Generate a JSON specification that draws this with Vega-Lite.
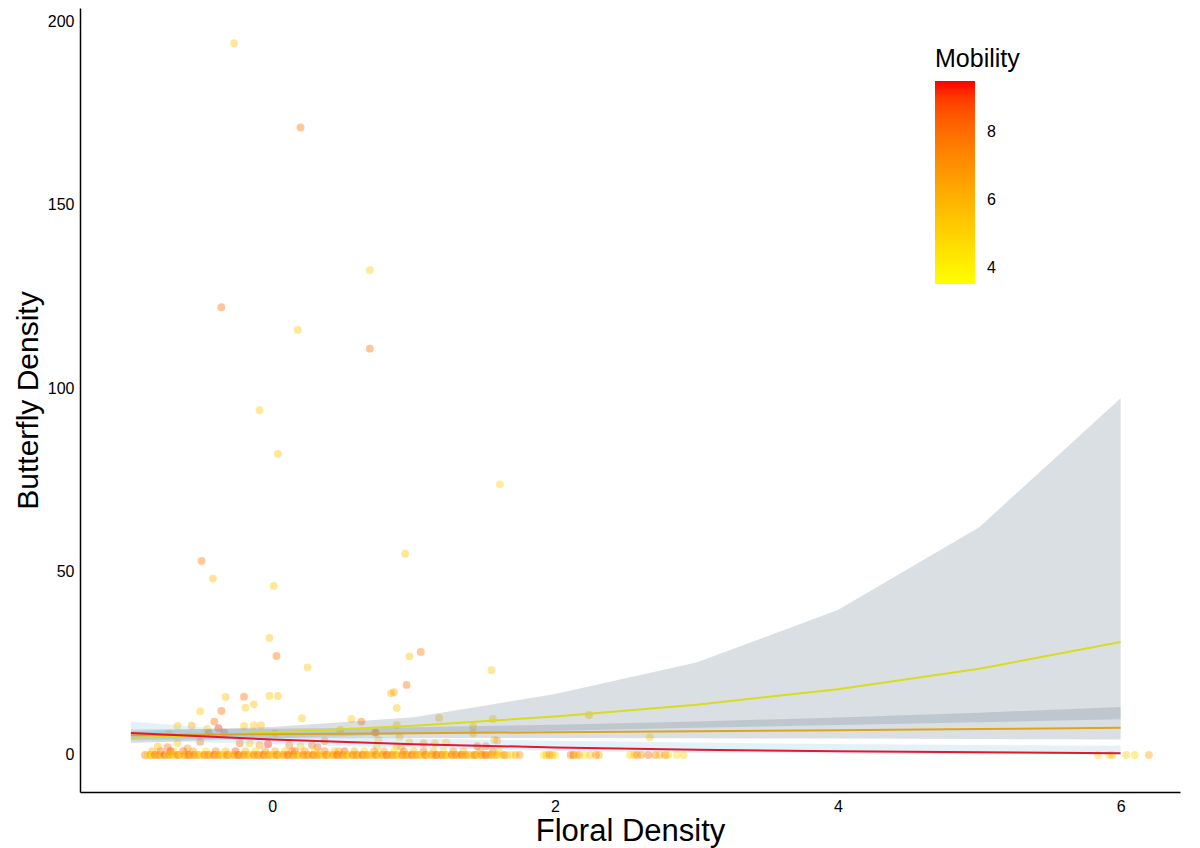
{
"$schema": "https://vega.github.io/schema/vega-lite/v6.json",
"width": 1100,
"height": 784,
"autosize": {"type": "none"},
"padding": {"left": 80, "top": 8, "right": 20, "bottom": 56},
"background": "white",
"config": {
  "view": {"stroke": null},
  "font": "Liberation Sans",
  "axis": {"grid": false, "ticks": false, "domainColor": "black", "domainWidth": 1.5, "labelColor": "black", "labelFontSize": 16, "labelPadding": 6, "titleFontWeight": "normal", "titleColor": "black"}
},
"datasets": {
"points": [
{"floral":-0.27,"butterfly":194.1,"mobility":5.3},{"floral":0.20,"butterfly":171.1,"mobility":7.8},{"floral":0.69,"butterfly":132.2,"mobility":5.2},{"floral":-0.36,"butterfly":122.1,"mobility":7.9},{"floral":0.18,"butterfly":115.9,"mobility":5.4},{"floral":0.69,"butterfly":110.8,"mobility":7.8},{"floral":-0.09,"butterfly":94.0,"mobility":5.3},{"floral":0.04,"butterfly":82.1,"mobility":5.5},{"floral":1.61,"butterfly":73.8,"mobility":5.2},{"floral":0.94,"butterfly":54.9,"mobility":5.4},{"floral":-0.50,"butterfly":52.9,"mobility":7.7},{"floral":-0.42,"butterfly":48.1,"mobility":5.6},{"floral":0.01,"butterfly":46.1,"mobility":5.3},{"floral":-0.02,"butterfly":31.9,"mobility":5.5},{"floral":0.03,"butterfly":27.0,"mobility":7.8},{"floral":0.25,"butterfly":23.9,"mobility":5.4},{"floral":0.97,"butterfly":26.9,"mobility":5.6},{"floral":1.05,"butterfly":28.1,"mobility":7.7},{"floral":1.55,"butterfly":23.1,"mobility":5.3},{"floral":0.95,"butterfly":19.1,"mobility":7.9},{"floral":0.84,"butterfly":16.8,"mobility":5.8},{"floral":0.86,"butterfly":17.1,"mobility":6.5},{"floral":0.88,"butterfly":12.8,"mobility":5.5},{"floral":-0.33,"butterfly":15.8,"mobility":5.6},{"floral":-0.20,"butterfly":15.9,"mobility":7.8},{"floral":-0.02,"butterfly":16.1,"mobility":5.5},{"floral":0.04,"butterfly":16.1,"mobility":5.6},{"floral":-0.19,"butterfly":12.9,"mobility":5.4},{"floral":-0.13,"butterfly":13.8,"mobility":5.6},{"floral":-0.51,"butterfly":11.9,"mobility":5.3},{"floral":-0.36,"butterfly":12.0,"mobility":7.9},{"floral":-0.41,"butterfly":9.1,"mobility":8.0},{"floral":0.21,"butterfly":10.0,"mobility":5.5},{"floral":0.56,"butterfly":9.8,"mobility":5.4},{"floral":0.63,"butterfly":9.1,"mobility":7.8},{"floral":1.18,"butterfly":10.1,"mobility":5.6},{"floral":1.56,"butterfly":9.8,"mobility":5.3},{"floral":2.24,"butterfly":10.9,"mobility":5.7},{"floral":2.67,"butterfly":4.8,"mobility":5.1},{"floral":-0.57,"butterfly":8.0,"mobility":6.6},{"floral":-0.20,"butterfly":7.9,"mobility":5.5},{"floral":-0.13,"butterfly":8.1,"mobility":5.4},{"floral":-0.08,"butterfly":8.1,"mobility":5.7},{"floral":-0.38,"butterfly":7.3,"mobility":9.3},{"floral":-0.67,"butterfly":7.9,"mobility":5.6},{"floral":-0.46,"butterfly":7.1,"mobility":5.3},{"floral":-0.45,"butterfly":5.9,"mobility":9.0},{"floral":-0.34,"butterfly":6.1,"mobility":9.2},{"floral":-0.73,"butterfly":5.9,"mobility":5.5},{"floral":0.02,"butterfly":5.9,"mobility":5.6},{"floral":0.48,"butterfly":6.8,"mobility":5.4},{"floral":0.73,"butterfly":6.1,"mobility":9.3},{"floral":0.88,"butterfly":8.2,"mobility":5.5},{"floral":0.90,"butterfly":5.0,"mobility":5.6},{"floral":0.75,"butterfly":4.1,"mobility":5.8},{"floral":0.37,"butterfly":3.8,"mobility":7.6},{"floral":1.42,"butterfly":7.7,"mobility":5.4},{"floral":1.42,"butterfly":5.9,"mobility":5.6},{"floral":1.57,"butterfly":4.1,"mobility":5.6},{"floral":1.59,"butterfly":3.9,"mobility":6.9},{"floral":0.97,"butterfly":3.4,"mobility":6.0},{"floral":1.07,"butterfly":3.2,"mobility":7.2},{"floral":1.23,"butterfly":3.4,"mobility":5.5},{"floral":1.15,"butterfly":3.2,"mobility":5.9},{"floral":-0.23,"butterfly":3.2,"mobility":8.2},{"floral":-0.16,"butterfly":3.2,"mobility":5.6},{"floral":-0.09,"butterfly":2.7,"mobility":6.9},{"floral":-0.03,"butterfly":3.0,"mobility":9.4},{"floral":0.12,"butterfly":2.7,"mobility":7.6},{"floral":0.20,"butterfly":2.3,"mobility":5.4},{"floral":-0.81,"butterfly":2.3,"mobility":6.0},{"floral":-0.74,"butterfly":2.1,"mobility":7.9},{"floral":-0.67,"butterfly":3.2,"mobility":5.5},{"floral":-0.60,"butterfly":1.8,"mobility":7.2},{"floral":-0.51,"butterfly":3.6,"mobility":8.0},{"floral":0.28,"butterfly":2.7,"mobility":7.8},{"floral":0.32,"butterfly":2.1,"mobility":8.3},{"floral":0.74,"butterfly":2.2,"mobility":5.6},{"floral":0.88,"butterfly":2.4,"mobility":5.4},{"floral":0.91,"butterfly":2.2,"mobility":6.1},{"floral":1.45,"butterfly":2.4,"mobility":8.5},{"floral":1.51,"butterfly":2.4,"mobility":8.2},
{"floral":-0.85,"butterfly":1,"mobility":6.2},{"floral":-0.79,"butterfly":1,"mobility":7.9},{"floral":-0.70,"butterfly":1,"mobility":5.1},{"floral":-0.63,"butterfly":1,"mobility":8.3},{"floral":-0.56,"butterfly":1,"mobility":6.7},{"floral":-0.47,"butterfly":1,"mobility":4.6},{"floral":-0.40,"butterfly":1,"mobility":7.4},{"floral":-0.33,"butterfly":1,"mobility":5.8},{"floral":-0.26,"butterfly":1,"mobility":8.7},{"floral":-0.19,"butterfly":1,"mobility":6.0},{"floral":-0.12,"butterfly":1,"mobility":4.9},{"floral":-0.05,"butterfly":1,"mobility":7.2},{"floral":0.02,"butterfly":1,"mobility":6.4},{"floral":0.09,"butterfly":1,"mobility":5.3},{"floral":0.16,"butterfly":1,"mobility":8.1},{"floral":0.23,"butterfly":1,"mobility":6.9},{"floral":0.30,"butterfly":1,"mobility":4.7},{"floral":0.37,"butterfly":1,"mobility":7.6},{"floral":0.44,"butterfly":1,"mobility":5.5},{"floral":0.51,"butterfly":1,"mobility":8.5},{"floral":0.58,"butterfly":1,"mobility":6.3},{"floral":0.65,"butterfly":1,"mobility":5.0},{"floral":0.72,"butterfly":1,"mobility":7.0},{"floral":0.79,"butterfly":1,"mobility":6.6},{"floral":0.86,"butterfly":1,"mobility":4.5},{"floral":0.93,"butterfly":1,"mobility":7.8},{"floral":1.00,"butterfly":1,"mobility":5.7},{"floral":1.07,"butterfly":1,"mobility":8.0},{"floral":1.14,"butterfly":1,"mobility":6.1},{"floral":1.21,"butterfly":1,"mobility":4.8},{"floral":1.28,"butterfly":1,"mobility":7.3},{"floral":1.35,"butterfly":1,"mobility":5.9},{"floral":1.47,"butterfly":1,"mobility":6.8},{"floral":1.56,"butterfly":1,"mobility":7.7},{"floral":1.60,"butterfly":1,"mobility":5.2},{"floral":0.14,"butterfly":1,"mobility":7.5},{"floral":-0.72,"butterfly":1,"mobility":8.9},{"floral":0.47,"butterfly":1,"mobility":6.5},
{"floral":-0.90,"butterfly":0,"mobility":7.8},{"floral":-0.88,"butterfly":0,"mobility":5.2},{"floral":-0.86,"butterfly":0,"mobility":6.9},{"floral":-0.85,"butterfly":0,"mobility":4.3},{"floral":-0.83,"butterfly":0,"mobility":8.4},{"floral":-0.81,"butterfly":0,"mobility":6.1},{"floral":-0.80,"butterfly":0,"mobility":7.3},{"floral":-0.78,"butterfly":0,"mobility":5.6},{"floral":-0.76,"butterfly":0,"mobility":8.9},{"floral":-0.74,"butterfly":0,"mobility":4.8},{"floral":-0.73,"butterfly":0,"mobility":7.1},{"floral":-0.71,"butterfly":0,"mobility":6.5},{"floral":-0.69,"butterfly":0,"mobility":5.0},{"floral":-0.67,"butterfly":0,"mobility":8.1},{"floral":-0.66,"butterfly":0,"mobility":6.8},{"floral":-0.64,"butterfly":0,"mobility":4.5},{"floral":-0.62,"butterfly":0,"mobility":7.6},{"floral":-0.60,"butterfly":0,"mobility":5.9},{"floral":-0.59,"butterfly":0,"mobility":8.6},{"floral":-0.57,"butterfly":0,"mobility":6.3},
{"floral":-0.55,"butterfly":0,"mobility":7.8},{"floral":-0.53,"butterfly":0,"mobility":5.2},{"floral":-0.52,"butterfly":0,"mobility":6.9},{"floral":-0.50,"butterfly":0,"mobility":4.3},{"floral":-0.48,"butterfly":0,"mobility":8.4},{"floral":-0.46,"butterfly":0,"mobility":6.1},{"floral":-0.45,"butterfly":0,"mobility":7.3},{"floral":-0.43,"butterfly":0,"mobility":5.6},{"floral":-0.41,"butterfly":0,"mobility":8.9},{"floral":-0.39,"butterfly":0,"mobility":4.8},{"floral":-0.38,"butterfly":0,"mobility":7.1},{"floral":-0.36,"butterfly":0,"mobility":6.5},{"floral":-0.34,"butterfly":0,"mobility":5.0},{"floral":-0.32,"butterfly":0,"mobility":8.1},{"floral":-0.31,"butterfly":0,"mobility":6.8},{"floral":-0.29,"butterfly":0,"mobility":4.5},{"floral":-0.27,"butterfly":0,"mobility":7.6},{"floral":-0.25,"butterfly":0,"mobility":5.9},{"floral":-0.24,"butterfly":0,"mobility":8.6},{"floral":-0.22,"butterfly":0,"mobility":6.3},
{"floral":-0.20,"butterfly":0,"mobility":7.8},{"floral":-0.18,"butterfly":0,"mobility":5.2},{"floral":-0.17,"butterfly":0,"mobility":6.9},{"floral":-0.15,"butterfly":0,"mobility":4.3},{"floral":-0.13,"butterfly":0,"mobility":8.4},{"floral":-0.11,"butterfly":0,"mobility":6.1},{"floral":-0.10,"butterfly":0,"mobility":7.3},{"floral":-0.08,"butterfly":0,"mobility":5.6},{"floral":-0.06,"butterfly":0,"mobility":8.9},{"floral":-0.04,"butterfly":0,"mobility":4.8},{"floral":-0.03,"butterfly":0,"mobility":7.1},{"floral":-0.01,"butterfly":0,"mobility":6.5},{"floral":0.01,"butterfly":0,"mobility":5.0},{"floral":0.03,"butterfly":0,"mobility":8.1},{"floral":0.04,"butterfly":0,"mobility":6.8},{"floral":0.06,"butterfly":0,"mobility":4.5},{"floral":0.08,"butterfly":0,"mobility":7.6},{"floral":0.10,"butterfly":0,"mobility":5.9},{"floral":0.11,"butterfly":0,"mobility":8.6},{"floral":0.13,"butterfly":0,"mobility":6.3},
{"floral":0.15,"butterfly":0,"mobility":7.8},{"floral":0.17,"butterfly":0,"mobility":5.2},{"floral":0.18,"butterfly":0,"mobility":6.9},{"floral":0.20,"butterfly":0,"mobility":4.3},{"floral":0.22,"butterfly":0,"mobility":8.4},{"floral":0.24,"butterfly":0,"mobility":6.1},{"floral":0.25,"butterfly":0,"mobility":7.3},{"floral":0.27,"butterfly":0,"mobility":5.6},{"floral":0.29,"butterfly":0,"mobility":8.9},{"floral":0.31,"butterfly":0,"mobility":4.8},{"floral":0.32,"butterfly":0,"mobility":7.1},{"floral":0.34,"butterfly":0,"mobility":6.5},{"floral":0.36,"butterfly":0,"mobility":5.0},{"floral":0.38,"butterfly":0,"mobility":8.1},{"floral":0.39,"butterfly":0,"mobility":6.8},{"floral":0.41,"butterfly":0,"mobility":4.5},{"floral":0.43,"butterfly":0,"mobility":7.6},{"floral":0.45,"butterfly":0,"mobility":5.9},{"floral":0.46,"butterfly":0,"mobility":8.6},{"floral":0.48,"butterfly":0,"mobility":6.3},
{"floral":0.50,"butterfly":0,"mobility":7.8},{"floral":0.52,"butterfly":0,"mobility":5.2},{"floral":0.53,"butterfly":0,"mobility":6.9},{"floral":0.55,"butterfly":0,"mobility":4.3},{"floral":0.57,"butterfly":0,"mobility":8.4},{"floral":0.59,"butterfly":0,"mobility":6.1},{"floral":0.60,"butterfly":0,"mobility":7.3},{"floral":0.62,"butterfly":0,"mobility":5.6},{"floral":0.64,"butterfly":0,"mobility":8.9},{"floral":0.66,"butterfly":0,"mobility":4.8},{"floral":0.67,"butterfly":0,"mobility":7.1},{"floral":0.69,"butterfly":0,"mobility":6.5},{"floral":0.71,"butterfly":0,"mobility":5.0},{"floral":0.73,"butterfly":0,"mobility":8.1},{"floral":0.74,"butterfly":0,"mobility":6.8},{"floral":0.76,"butterfly":0,"mobility":4.5},{"floral":0.78,"butterfly":0,"mobility":7.6},{"floral":0.80,"butterfly":0,"mobility":5.9},{"floral":0.81,"butterfly":0,"mobility":8.6},{"floral":0.83,"butterfly":0,"mobility":6.3},
{"floral":0.85,"butterfly":0,"mobility":7.8},{"floral":0.87,"butterfly":0,"mobility":5.2},{"floral":0.88,"butterfly":0,"mobility":6.9},{"floral":0.90,"butterfly":0,"mobility":4.3},{"floral":0.92,"butterfly":0,"mobility":8.4},{"floral":0.94,"butterfly":0,"mobility":6.1},{"floral":0.95,"butterfly":0,"mobility":7.3},{"floral":0.97,"butterfly":0,"mobility":5.6},{"floral":0.99,"butterfly":0,"mobility":8.9},{"floral":1.01,"butterfly":0,"mobility":4.8},{"floral":1.02,"butterfly":0,"mobility":7.1},{"floral":1.04,"butterfly":0,"mobility":6.5},{"floral":1.06,"butterfly":0,"mobility":5.0},{"floral":1.08,"butterfly":0,"mobility":8.1},{"floral":1.09,"butterfly":0,"mobility":6.8},{"floral":1.11,"butterfly":0,"mobility":4.5},{"floral":1.13,"butterfly":0,"mobility":7.6},{"floral":1.15,"butterfly":0,"mobility":5.9},{"floral":1.16,"butterfly":0,"mobility":8.6},{"floral":1.18,"butterfly":0,"mobility":6.3},
{"floral":1.20,"butterfly":0,"mobility":7.8},{"floral":1.22,"butterfly":0,"mobility":5.2},{"floral":1.23,"butterfly":0,"mobility":6.9},{"floral":1.25,"butterfly":0,"mobility":4.3},{"floral":1.27,"butterfly":0,"mobility":8.4},{"floral":1.29,"butterfly":0,"mobility":6.1},{"floral":1.30,"butterfly":0,"mobility":7.3},{"floral":1.32,"butterfly":0,"mobility":5.6},{"floral":1.34,"butterfly":0,"mobility":8.9},{"floral":1.36,"butterfly":0,"mobility":4.8},{"floral":1.37,"butterfly":0,"mobility":7.1},{"floral":1.39,"butterfly":0,"mobility":6.5},{"floral":1.41,"butterfly":0,"mobility":5.0},{"floral":1.43,"butterfly":0,"mobility":8.1},{"floral":1.44,"butterfly":0,"mobility":6.8},{"floral":1.46,"butterfly":0,"mobility":4.5},{"floral":1.48,"butterfly":0,"mobility":7.6},{"floral":1.50,"butterfly":0,"mobility":5.9},{"floral":1.51,"butterfly":0,"mobility":8.6},{"floral":1.53,"butterfly":0,"mobility":6.3},
{"floral":1.55,"butterfly":0,"mobility":7.2},{"floral":1.57,"butterfly":0,"mobility":5.4},{"floral":1.59,"butterfly":0,"mobility":6.6},{"floral":1.62,"butterfly":0,"mobility":4.6},{"floral":1.64,"butterfly":0,"mobility":7.9},{"floral":1.66,"butterfly":0,"mobility":5.8},{"floral":1.69,"butterfly":0,"mobility":4.9},{"floral":1.72,"butterfly":0,"mobility":6.2},{"floral":1.75,"butterfly":0,"mobility":7.0},{"floral":1.92,"butterfly":0,"mobility":4.7},{"floral":1.94,"butterfly":0,"mobility":5.3},{"floral":1.96,"butterfly":0,"mobility":7.4},{"floral":1.98,"butterfly":0,"mobility":6.1},{"floral":2.00,"butterfly":0,"mobility":4.8},{"floral":2.11,"butterfly":0,"mobility":7.7},{"floral":2.13,"butterfly":0,"mobility":8.3},{"floral":2.15,"butterfly":0,"mobility":5.1},{"floral":2.17,"butterfly":0,"mobility":6.9},{"floral":2.21,"butterfly":0,"mobility":4.6},{"floral":2.25,"butterfly":0,"mobility":5.5},{"floral":2.29,"butterfly":0,"mobility":7.2},{"floral":2.31,"butterfly":0,"mobility":6.4},{"floral":2.53,"butterfly":0,"mobility":4.9},{"floral":2.56,"butterfly":0,"mobility":5.6},{"floral":2.58,"butterfly":0,"mobility":7.5},{"floral":2.61,"butterfly":0,"mobility":6.8},{"floral":2.66,"butterfly":0,"mobility":8.1},{"floral":2.71,"butterfly":0,"mobility":7.3},{"floral":2.74,"butterfly":0,"mobility":6.0},{"floral":2.78,"butterfly":0,"mobility":7.6},{"floral":2.80,"butterfly":0,"mobility":5.2},{"floral":2.86,"butterfly":0,"mobility":4.7},{"floral":2.91,"butterfly":0,"mobility":5.0},
{"floral":5.84,"butterfly":0,"mobility":5.0},{"floral":5.92,"butterfly":0,"mobility":4.6},{"floral":5.94,"butterfly":0,"mobility":5.4},{"floral":6.04,"butterfly":0,"mobility":5.2},{"floral":6.10,"butterfly":0,"mobility":4.8},{"floral":6.20,"butterfly":0,"mobility":6.4}
],
"fits": [
{"floral":-1,"group":"low","fit":4.66,"lo":3.25,"hi":6.5},{"floral":0,"group":"low","fit":6.1,"lo":4.56,"hi":7.6},{"floral":1,"group":"low","fit":7.99,"lo":5.71,"hi":10.3},{"floral":2,"group":"low","fit":10.47,"lo":6.6,"hi":16.6},{"floral":3,"group":"low","fit":13.7,"lo":7.45,"hi":25.2},{"floral":4,"group":"low","fit":17.95,"lo":8.15,"hi":39.5},{"floral":5,"group":"low","fit":23.5,"lo":8.9,"hi":62.1},{"floral":6,"group":"low","fit":30.8,"lo":9.75,"hi":97.3},
{"floral":-1,"group":"mid","fit":5.4,"lo":4.16,"hi":7.0},{"floral":0,"group":"mid","fit":5.65,"lo":4.46,"hi":7.16},{"floral":1,"group":"mid","fit":5.91,"lo":4.62,"hi":7.57},{"floral":2,"group":"mid","fit":6.18,"lo":4.64,"hi":8.23},{"floral":3,"group":"mid","fit":6.46,"lo":4.57,"hi":9.12},{"floral":4,"group":"mid","fit":6.76,"lo":4.47,"hi":10.23},{"floral":5,"group":"mid","fit":7.07,"lo":4.33,"hi":11.54},{"floral":6,"group":"mid","fit":7.4,"lo":4.19,"hi":13.08},
{"floral":-1,"group":"high","fit":6.0,"lo":3.9,"hi":9.1},{"floral":0,"group":"high","fit":4.2,"lo":2.95,"hi":6.0},{"floral":1,"group":"high","fit":2.94,"lo":1.9,"hi":4.5},{"floral":2,"group":"high","fit":2.06,"lo":1.1,"hi":3.9},{"floral":3,"group":"high","fit":1.44,"lo":0.6,"hi":3.4},{"floral":4,"group":"high","fit":1.01,"lo":0.35,"hi":3.0},{"floral":5,"group":"high","fit":0.71,"lo":0.2,"hi":2.7},{"floral":6,"group":"high","fit":0.49,"lo":0.1,"hi":2.5}
]
},
"layer": [
{
  "data": {"name": "points"},
  "mark": {"type": "circle", "size": 62, "fillOpacity": 0.4, "strokeWidth": 0},
  "encoding": {
    "x": {"field": "floral", "type": "quantitative", "scale": {"domain": [-1.36, 6.42], "nice": false, "zero": false}, "axis": {"title": "Floral Density", "values": [0, 2, 4, 6], "format": "d", "titleFontSize": 31, "titlePadding": 2}},
    "y": {"field": "butterfly", "type": "quantitative", "scale": {"domain": [-10.1, 203.7], "nice": false, "zero": false}, "axis": {"title": "Butterfly Density", "values": [0, 50, 100, 150, 200], "format": "d", "titleFontSize": 30, "titlePadding": 4}},
    "color": {"field": "mobility", "type": "quantitative", "title": "Mobility",
      "scale": {"domain": [3.53, 9.5], "range": ["#FFFF00", "#FF0000"], "interpolate": "lab"},
      "legend": {"orient": "none", "legendX": 855, "legendY": 39, "direction": "vertical", "gradientLength": 203, "gradientThickness": 40, "gradientStrokeWidth": 0, "values": [4, 6, 8], "labelFontSize": 16, "labelColor": "black", "labelOffset": 12, "titleFontSize": 25, "titleFontWeight": "normal", "titleColor": "black", "titlePadding": 9,
        "encode": {"gradient": {"update": {"opacity": {"value": 1}, "fillOpacity": {"value": 1}}}}}}
  }
},
{
  "data": {"name": "fits"},
  "transform": [{"filter": "datum.group !== 'high'"}],
  "mark": {"type": "area", "color": "#778899", "opacity": 0.27},
  "encoding": {
    "x": {"field": "floral", "type": "quantitative"},
    "y": {"field": "lo", "type": "quantitative"},
    "y2": {"field": "hi"},
    "detail": {"field": "group", "type": "nominal"}
  }
},
{
  "data": {"name": "fits"},
  "transform": [{"filter": "datum.group === 'high'"}],
  "mark": {"type": "area", "color": "#A9CFEA", "opacity": 0.3},
  "encoding": {
    "x": {"field": "floral", "type": "quantitative"},
    "y": {"field": "lo", "type": "quantitative"},
    "y2": {"field": "hi"}
  }
},
{
  "data": {"name": "fits"},
  "mark": {"type": "line", "strokeWidth": 2},
  "encoding": {
    "x": {"field": "floral", "type": "quantitative"},
    "y": {"field": "fit", "type": "quantitative"},
    "stroke": {"field": "group", "type": "nominal", "scale": {"domain": ["low", "mid", "high"], "range": ["#D9DB1F", "#DBA520", "#E3182D"]}, "legend": null}
  }
}
]
}
